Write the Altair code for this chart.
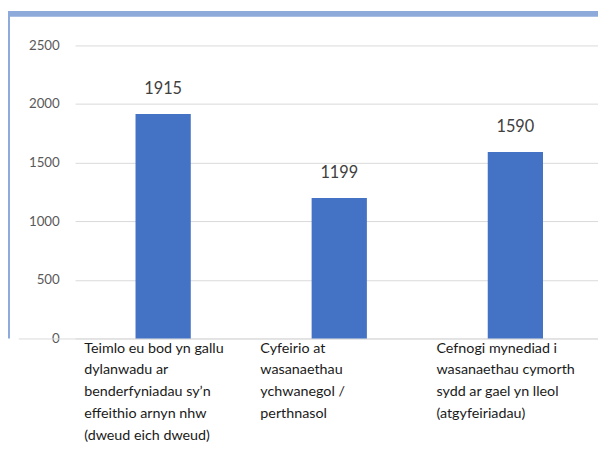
import altair as alt
import pandas as pd

categories = [
    "Teimlo eu bod yn gallu\ndylanwadu ar\nbenderfyniadau sy’n\neffeithio arnyn nhw\n(dweud eich dweud)",
    "Cyfeirio at\nwasanaethau\nychwanegol /\nperthnasol",
    "Cefnogi mynediad i\nwasanaethau cymorth\nsydd ar gael yn lleol\n(atgyfeiriadau)",
]
values = [1915, 1199, 1590]
y_ticks = [0, 500, 1000, 1500, 2000, 2500]

df = pd.DataFrame({"cat": categories, "val": values})
FONT = "Lato"
x_scale = alt.Scale(rangeMin=0, rangeMax=535.5, paddingInner=0, paddingOuter=0)

x_enc = alt.X(
    "cat:N",
    sort=categories,
    title=None,
    scale=x_scale,
    axis=alt.Axis(
        labelAngle=0,
        labelAlign="left",
        labelBaseline="top",
        labelOffset=-80,
        labelPadding=3,
        labelLineHeight=22,
        labelExpr="split(datum.label, '\\n')",
        labelFont=FONT,
        labelFontSize=14.5,
        labelColor="#1a1a1a",
        labelLimit=300,
        ticks=False,
        domain=False,
        grid=False,
    ),
)
y_enc = alt.Y(
    "val:Q",
    title=None,
    scale=alt.Scale(domain=[0, 2500], nice=False),
    axis=alt.Axis(
        values=y_ticks,
        format="d",
        labelFont=FONT,
        labelFontSize=13.5,
        labelColor="#595959",
        labelPadding=16,
        ticks=False,
        domain=False,
        grid=True,
        gridColor="#d9d9d9",
        gridWidth=1,
    ),
)

one = pd.DataFrame({"k": [0]})
band_top = alt.Chart(one).mark_rect(color="#8eaadb").encode(
    x=alt.value(-68), x2=alt.value(530), y=alt.value(-35), y2=alt.value(-29)
)
band_left = alt.Chart(one).mark_rect(color="#8eaadb").encode(
    x=alt.value(-68), x2=alt.value(-66), y=alt.value(-35), y2=alt.value(297)
)
baseline = alt.Chart(one).mark_rule(color="#d9d9d9", strokeWidth=1).encode(
    x=alt.value(-57), x2=alt.value(530), y=alt.value(297.5)
)

bars = alt.Chart(df).mark_bar(size=56, color="#4472c4").encode(x=x_enc, y=y_enc)
labels = alt.Chart(df).mark_text(
    font=FONT, fontSize=16.5, color="#404040", baseline="middle", dy=-25
).encode(x=alt.X("cat:N", sort=categories, scale=x_scale), y="val:Q", text="val:Q")

chart = (
    alt.layer(band_top, band_left, baseline, bars, labels)
    .properties(
        width=530,
        height=297,
        autosize=alt.AutoSizeParams(type="none"),
        padding={"left": 68, "top": 35, "right": 0, "bottom": 104},
        background="white",
    )
    .configure_view(stroke=None)
)

chart.save("out.html", embed_options={"renderer": "svg", "actions": False})
